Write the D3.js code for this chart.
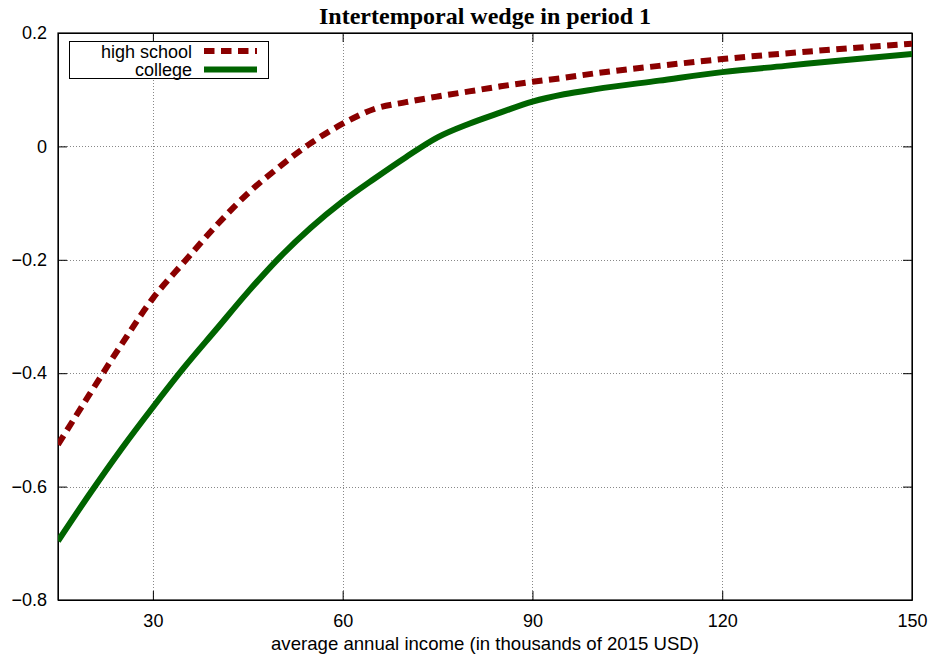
<!DOCTYPE html>
<html>
<head>
<meta charset="utf-8">
<script src="https://cdn.jsdelivr.net/npm/d3@7"></script>
<style>
  body { margin: 0; background: #fff; }
  svg { display: block; }
  .axis text { font-family: "Liberation Sans", Arial, sans-serif; font-size: 18px; fill: #000; }
  .axis path, .axis line { stroke: #000; }
</style>
</head>
<body>
<svg id="chart"></svg>
<script>
// income grid (thousands of 2015 USD)
const income = [15, 20, 25, 30, 35, 40, 45, 50, 55, 60, 65, 70, 75, 80, 85, 90, 95, 100, 110, 120, 130, 140, 150];
const highSchool = [-0.526, -0.437, -0.350, -0.268, -0.203, -0.140, -0.083, -0.036, 0.006, 0.040, 0.066, 0.078, 0.088, 0.097, 0.106, 0.114, 0.121, 0.129, 0.142, 0.154, 0.164, 0.173, 0.181];
const college = [-0.696, -0.613, -0.534, -0.460, -0.389, -0.323, -0.257, -0.196, -0.143, -0.097, -0.057, -0.019, 0.016, 0.040, 0.060, 0.079, 0.092, 0.101, 0.116, 0.131, 0.142, 0.153, 0.163];
const xTicks = [30, 60, 90, 120, 150];
const yTicks = [-0.8, -0.6, -0.4, -0.2, 0, 0.2];
const seriesNames = ["high school", "college"];

const width = 931;
const height = 655;
const margin = { top: 33, right: 19, bottom: 55, left: 58 };
const tickLen = 9;

const svg = d3.select("#chart").attr("width", width).attr("height", height);

const x = d3.scaleLinear().domain([15, 150]).range([margin.left, width - margin.right]);
const y = d3.scaleLinear().domain([-0.8, 0.2]).range([height - margin.bottom, margin.top]);

const yFormat = (d) => (d === 0 ? "0" : d3.format(".1f")(d));

// grid
const grid = svg.append("g").attr("stroke", "#888").attr("stroke-width", 1).attr("stroke-dasharray", "1,2");
grid.selectAll(".gx")
  .data(xTicks.filter((d) => d < 150))
  .enter()
  .append("line")
  .attr("x1", (d) => Math.round(x(d)) + 0.5)
  .attr("x2", (d) => Math.round(x(d)) + 0.5)
  .attr("y1", y(-0.8))
  .attr("y2", y(0.2));
grid.selectAll(".gy")
  .data(yTicks.filter((d) => d > -0.8 && d < 0.2))
  .enter()
  .append("line")
  .attr("y1", (d) => Math.round(y(d)) + 0.5)
  .attr("y2", (d) => Math.round(y(d)) + 0.5)
  .attr("x1", x(15))
  .attr("x2", x(150));

// axes, ticks pointing inward, mirrored on top and right
svg.append("g")
  .attr("class", "axis")
  .attr("transform", `translate(0, ${y(-0.8)})`)
  .call(d3.axisBottom(x).tickValues(xTicks).tickSizeInner(-tickLen).tickSizeOuter(0).tickPadding(14));
svg.append("g")
  .attr("class", "axis")
  .attr("transform", `translate(0, ${y(0.2)})`)
  .call(d3.axisTop(x).tickValues(xTicks).tickSizeInner(-tickLen).tickSizeOuter(0).tickFormat(""));
svg.append("g")
  .attr("class", "axis")
  .attr("transform", `translate(${x(15)}, 0)`)
  .call(d3.axisLeft(y).tickValues(yTicks).tickFormat(yFormat).tickSizeInner(-tickLen).tickSizeOuter(0).tickPadding(11));
svg.append("g")
  .attr("class", "axis")
  .attr("transform", `translate(${x(150)}, 0)`)
  .call(d3.axisRight(y).tickValues(yTicks).tickSizeInner(-tickLen).tickSizeOuter(0).tickFormat(""));

// border
svg.append("rect")
  .attr("x", x(15))
  .attr("y", y(0.2))
  .attr("width", x(150) - x(15))
  .attr("height", y(-0.8) - y(0.2))
  .attr("fill", "none")
  .attr("stroke", "#000")
  .attr("stroke-width", 1.2);

// curves
svg.append("clipPath").attr("id", "plot-clip")
  .append("rect")
  .attr("x", x(15))
  .attr("y", y(0.2))
  .attr("width", x(150) - x(15))
  .attr("height", y(-0.8) - y(0.2));

const line = d3.line()
  .x((d) => x(d[0]))
  .y((d) => y(d[1]))
  .curve(d3.curveMonotoneX);

svg.append("path")
  .datum(income.map((v, i) => [v, college[i]]))
  .attr("d", line)
  .attr("fill", "none")
  .attr("stroke", "#006400")
  .attr("stroke-width", 6)
  .attr("clip-path", "url(#plot-clip)");

svg.append("path")
  .datum(income.map((v, i) => [v, highSchool[i]]))
  .attr("d", line)
  .attr("fill", "none")
  .attr("stroke", "#8b0000")
  .attr("stroke-width", 6)
  .attr("stroke-dasharray", "10.5,6.5")
  .attr("clip-path", "url(#plot-clip)");

// legend
const legend = svg.append("g").attr("id", "legend");
legend.append("rect")
  .attr("x", 69.5)
  .attr("y", 41.5)
  .attr("width", 199)
  .attr("height", 37)
  .attr("fill", "#fff")
  .attr("stroke", "#000")
  .attr("stroke-width", 1);

const legendColor = d3.scaleOrdinal().domain(seriesNames).range(["#8b0000", "#006400"]);

const items = legend.selectAll(".legend-item")
  .data(seriesNames)
  .enter()
  .append("g")
  .attr("class", "legend-item")
  .attr("transform", (_, i) => `translate(0, ${51 + i * 18.6})`);

items.append("text")
  .text((d) => d)
  .attr("x", 192)
  .attr("y", 6.5)
  .attr("text-anchor", "end")
  .style("font-family", "\"Liberation Sans\", Arial, sans-serif")
  .style("font-size", "18px");

items.append("line")
  .attr("x1", 204)
  .attr("x2", 257)
  .attr("stroke", (d) => legendColor(d))
  .attr("stroke-width", 6)
  .attr("stroke-dasharray", (d, i) => (i === 0 ? "10.5,6.5" : null));

// title and axis label
svg.append("text")
  .text("Intertemporal wedge in period 1")
  .attr("x", (x(15) + x(150)) / 2)
  .attr("y", 24)
  .attr("text-anchor", "middle")
  .style("font-family", "\"Liberation Serif\", \"Times New Roman\", serif")
  .style("font-weight", "bold")
  .style("font-size", "24px");

svg.append("text")
  .text("average annual income (in thousands of 2015 USD)")
  .attr("x", (x(15) + x(150)) / 2)
  .attr("y", 650)
  .attr("text-anchor", "middle")
  .style("font-family", "\"Liberation Sans\", Arial, sans-serif")
  .style("font-size", "18.6px");
</script>
</body>
</html>
